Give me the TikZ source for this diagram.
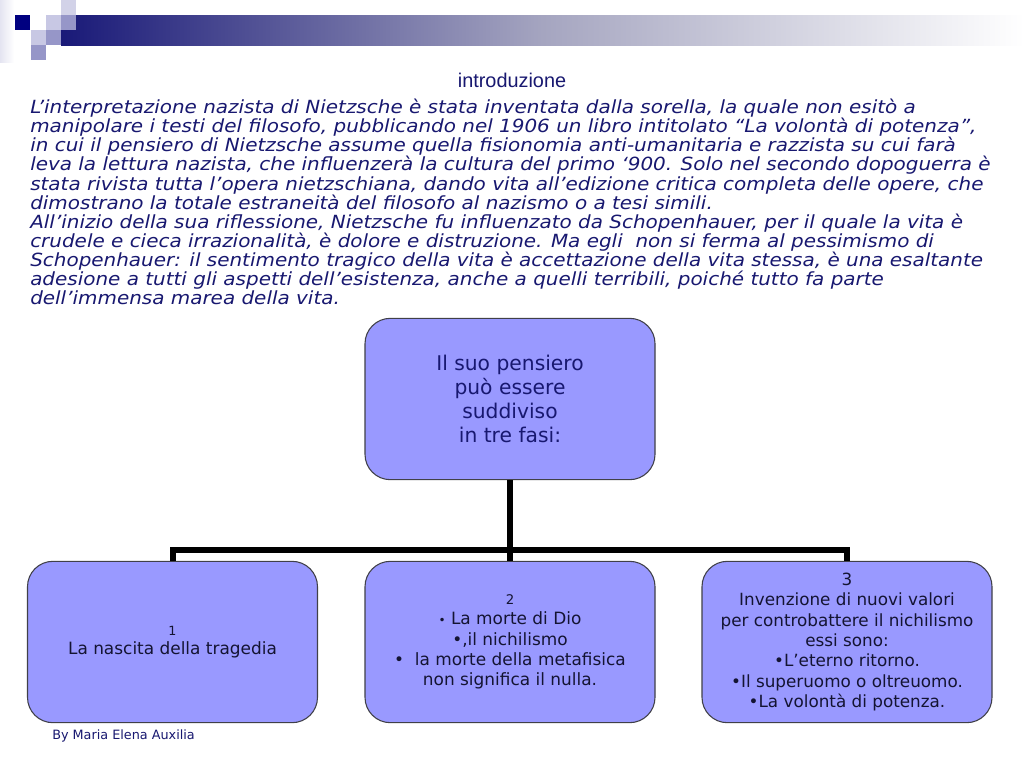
\documentclass[tikz,border=0pt]{standalone}
\usepackage{fontspec}
\newfontfamily\vfont{DejaVu Sans}
\newfontfamily\vwide[FakeStretch=1.1]{DejaVu Sans}
\newfontfamily\afont{Liberation Sans}
\definecolor{navy}{RGB}{24,24,112}
\definecolor{boxfill}{RGB}{153,153,255}
\definecolor{boxline}{RGB}{64,64,72}
\definecolor{boxtext}{RGB}{20,20,50}
\definecolor{sqA}{RGB}{0,0,128}
\definecolor{sqB}{RGB}{200,200,228}
\definecolor{sqC}{RGB}{150,150,200}
\definecolor{sqD}{RGB}{210,210,232}
\definecolor{barL}{RGB}{25,25,120}
\definecolor{barM}{RGB}{165,165,192}
\tikzset{
  fbox/.style={draw=boxline, line width=0.8pt, fill=boxfill, rounded corners=19pt,
    minimum width=217.5pt, minimum height=121pt, align=center, inner sep=2pt},
  conn/.style={line width=4.5pt, black},
}
\begin{document}
\begin{tikzpicture}[x=0.75pt,y=-0.75pt]
\useasboundingbox (0,0) rectangle (1024,768);
\fill[white] (0,0) rectangle (1024,768);
% decoration
\shade[left color=sqD!60, right color=white] (0,0) rectangle (14,62);
\shade[left color=barL, right color=white, middle color=barM] (61,15) rectangle (1024,45);
\fill[sqA] (15,15) rectangle (30,30);
\fill[sqB] (46,15) rectangle (61,30);
\fill[sqD] (61,0) rectangle (76,15);
\fill[sqC] (61,15) rectangle (76,30);
\fill[sqB] (31,30) rectangle (46,45);
\fill[sqC] (46,30) rectangle (61,45);
\fill[sqC] (31,45) rectangle (46,60);
% title
\node[font=\afont\fontsize{14.9}{17}\selectfont, text=navy] (title) at (512,80) {introduzione};
% paragraph
\node[anchor=north west, inner sep=0pt, align=left, text=navy,
  font=\vwide\itshape\fontsize{13.6}{14.3}\selectfont] (para) at (30,99) {%
L’interpretazione nazista di Nietzsche è stata inventata dalla sorella, la quale non esitò a\\
manipolare i testi del filosofo, pubblicando nel 1906 un libro intitolato “La volontà di potenza”,\\
in cui il pensiero di Nietzsche assume quella fisionomia anti-umanitaria e razzista su cui farà\\
leva la lettura nazista, che influenzerà la cultura del primo ‘900. Solo nel secondo dopoguerra è\\
stata rivista tutta l’opera nietzschiana, dando vita all’edizione critica completa delle opere, che\\
dimostrano la totale estraneità del filosofo al nazismo o a tesi simili.\\
All’inizio della sua riflessione, Nietzsche fu influenzato da Schopenhauer, per il quale la vita è\\
crudele e cieca irrazionalità, è dolore e distruzione. Ma egli\ \ non si ferma al pessimismo di\\
Schopenhauer: il sentimento tragico della vita è accettazione della vita stessa, è una esaltante\\
adesione a tutti gli aspetti dell’esistenza, anche a quelli terribili, poiché tutto fa parte\\
dell’immensa marea della vita.};
% boxes
\node[fbox, text=navy, font=\vfont\fontsize{15.2}{17.8}\selectfont] (top) at (510,399)
  {Il suo pensiero\\può essere\\suddiviso\\in tre fasi:};
\node[fbox, text=boxtext, font=\vfont\fontsize{12.7}{14}\selectfont] (b1) at (172.5,642)
  {{\fontsize{9.5}{11}\selectfont 1}\\La nascita della tragedia};
\node[fbox, text=boxtext, font=\vfont\fontsize{12.7}{15.2}\selectfont] (b2) at (510,642)
  {{\fontsize{10}{11}\selectfont 2}\\{\small•} La morte di Dio\\•,il nichilismo\\•\ \ la morte della metafisica\\non significa il nulla.};
\node[fbox, text=boxtext, font=\vfont\fontsize{12.6}{15.2}\selectfont] (b3) at (847,642)
  {3\\Invenzione di nuovi valori\\per controbattere il nichilismo\\essi sono:\\•L’eterno ritorno.\\•Il superuomo o oltreuomo.\\•La volontà di potenza.};
% connectors
\coordinate (j) at (510,550);
\draw[conn] (top.south) -- (b2.north);
\draw[conn] (b1.north) -- (b1.north |- j) -- (b3.north |- j) -- (b3.north);
% footer
\node[anchor=west, inner sep=0pt, text=navy, font=\vfont\fontsize{9.6}{11}\selectfont] (foot) at (52,736) {By Maria Elena Auxilia};
\end{tikzpicture}
\end{document}
